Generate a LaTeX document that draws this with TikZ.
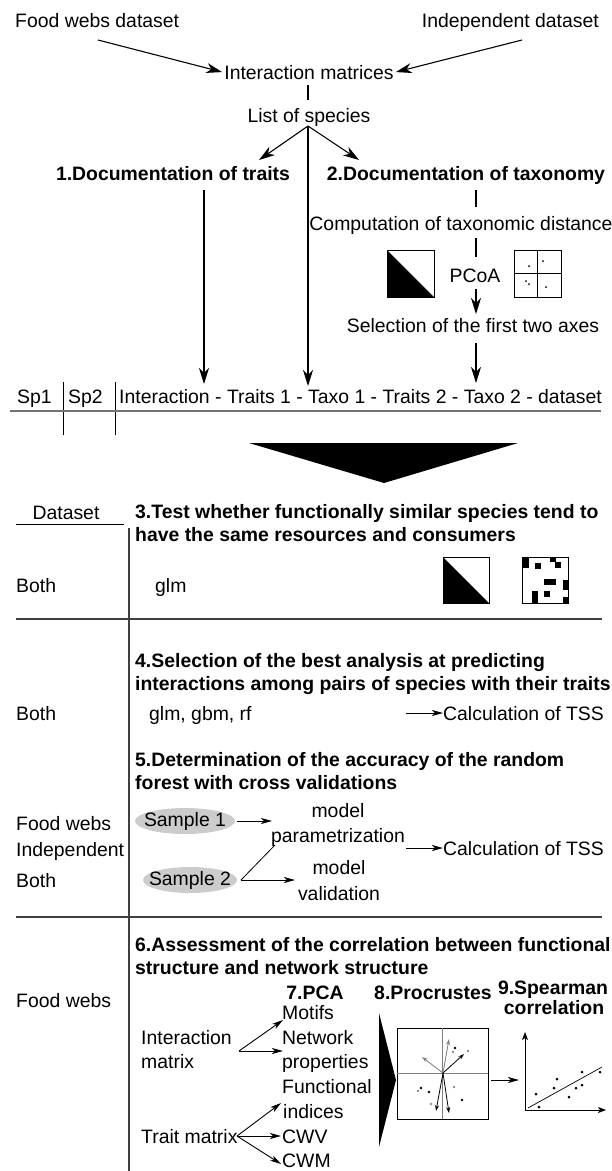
\documentclass[tikz,border=0pt]{standalone}
\usepackage{fontspec}
\setmainfont{Liberation Sans}
\usetikzlibrary{arrows.meta}
\begin{document}
\begin{tikzpicture}[x=1pt,y=-1pt,
  txt/.style={font=\fontsize{19.4}{23}\selectfont, inner sep=0pt},
  hd/.style={font=\fontsize{19.4}{23}\selectfont\bfseries, inner sep=0pt, align=left},
  ln/.style={line width=1.1pt},
  bigarr/.style={ln, -{Stealth[length=16pt,width=10pt,inset=5pt]}},
  smarr/.style={line width=0.9pt, -{Stealth[length=11pt,width=6pt,inset=3pt]}},
  tinyarr/.style={line width=0.8pt, -{Stealth[length=6pt,width=4pt,inset=2pt]}},
  sepline/.style={line width=1.4pt, draw=black!75},
  bdot/.style={fill=black},
  gdot/.style={fill=black!45},
  samp/.style={fill=black!20},
]
\useasboundingbox (0,0) rectangle (611,1171);

% ---------- top part ----------
\node[txt, anchor=base west] (fw) at (15,27) {Food webs dataset};
\node[txt, anchor=base east] (ind) at (599,27) {Independent dataset};
\node[txt, anchor=base] (im) at (309,79) {Interaction matrices};
\node[txt, anchor=base] (los) at (309,122) {List of species};
\node[hd, anchor=base] (h1) at (173,180) {1.Documentation of traits};
\node[hd, anchor=base] (h2) at (466,180) {2.Documentation of taxonomy};
\node[txt, anchor=base] (comp) at (461,230) {Computation of taxonomic distance};
\node[txt, anchor=base] (pcoa) at (475,282) {PCoA};
\node[txt, anchor=base] (sel) at (473,332) {Selection of the first two axes};

\coordinate (fwA) at (98,40);
\coordinate (indA) at (522,40);
\draw[bigarr] (fwA) -- ([xshift=-2pt]im.west);
\draw[bigarr] (indA) -- ([xshift=2pt]im.east);
\coordinate (imB) at (308,85);
\coordinate (losT) at (308,100);
\draw[ln] (imB) -- (losT);
\coordinate (br) at (308,126);
\coordinate (bl) at (259,160);
\coordinate (brr) at (359,160);
\draw[bigarr] (br) -- (bl);
\draw[bigarr] (br) -- (brr);

\coordinate (a0) at (204,190);
\coordinate (a1) at (204,384);
\coordinate (b1) at (308,386);
\draw[bigarr] (a0) -- (a1);
\draw[bigarr] (br) -- (b1);

\coordinate (c0) at (476,190);
\coordinate (c1) at (476,207);
\coordinate (c2) at (476,238);
\coordinate (c3) at (476,257);
\coordinate (c4) at (476,289);
\coordinate (c5) at (476,314);
\coordinate (c6) at (476,343);
\coordinate (c7) at (476,383);
\draw[ln] (c0) -- (c1);
\draw[ln] (c2) -- (c3);
\draw[bigarr] (c4) -- (c5);
\draw[bigarr] (c6) -- (c7);

% matrix icons (top)
\draw[line width=0.9pt] (387,250) rectangle (434,297);
\fill (387,250) -- (387,297) -- (434,297) -- cycle;
\draw[line width=0.9pt] (514,250) rectangle (561,297);
\draw[line width=0.7pt] (537.5,250) -- (537.5,297);
\draw[line width=0.7pt] (514,273.5) -- (561,273.5);
\fill (529,266) circle (1pt);
\fill (543,261) circle (1pt);
\fill (526,281) circle (1pt);
\fill (529,284) circle (1pt);
\fill (546,287) circle (1pt);

% species row
\node[txt, anchor=base west] (sp1) at (17,403) {Sp1};
\node[txt, anchor=base west] (sp2) at (68,403) {Sp2};
\node[txt, anchor=base west] (row) at (119,403) {Interaction - Traits 1 - Taxo 1 - Traits 2 - Taxo 2 - dataset};
\draw[line width=0.8pt] (63,382) -- (63,435);
\draw[line width=0.8pt] (115,382) -- (115,435);
\draw[line width=2pt, draw=black!55] (10,411) -- (601,411);

% big down triangle
\fill (249,443) -- (518,443) -- (384,483) -- cycle;

% ---------- table ----------
\node[txt, anchor=base] (ds) at (66,519) {Dataset};
\draw[line width=1pt] (16,524) -- (124,524);
\draw[sepline] (129,528) -- (129,1171);

\node[hd, anchor=base west] (h3) at (135,541) {3.Test whether functionally similar species tend to\\have the same resources and consumers};
\node[txt, anchor=base west] (both1) at (16,592) {Both};
\node[txt, anchor=base west] (glm) at (155,592) {glm};

\draw[line width=0.9pt] (443,557) rectangle (489,603);
\fill (443,557) -- (443,603) -- (489,603) -- cycle;
\draw[line width=0.9pt] (522,557) rectangle (568,603);
\fill (522,557) rectangle (529,568);
\fill (535,563) rectangle (541,569);
\fill (550,557) rectangle (556,562);
\fill (555,562) rectangle (561,568);
\fill (544,579) rectangle (556,585);
\fill (563,580) rectangle (568,590);
\fill (544,591) rectangle (550,597);
\fill (532,591) rectangle (538,603);
\fill (563,597) rectangle (568,603);

\draw[sepline] (16,619) -- (602,619);

\node[hd, anchor=base west] (h4) at (135,690) {4.Selection of the best analysis at predicting\\interactions among pairs of species with their traits};
\node[txt, anchor=base west] (both2) at (16,720) {Both};
\node[txt, anchor=base west] (ggr) at (149,720) {glm, gbm, rf};
\node[txt, anchor=base west] (tss1) at (443,720) {Calculation of TSS};
\coordinate (t1s) at (406,713);
\draw[smarr] (t1s) -- (tss1.west |- t1s);

\node[hd, anchor=base west] (h5) at (135,789) {5.Determination of the accuracy of the random\\forest with cross validations};
\node[txt, anchor=base west] (fw2) at (16,830) {Food webs};
\node[txt, anchor=base west] (indep) at (16,856) {Independent};
\node[txt, anchor=base west] (both3) at (16,887) {Both};

\fill[samp] (185,821) ellipse [x radius=50pt, y radius=13pt];
\node[txt] (s1) at (185,821) {Sample 1};
\fill[samp] (190,880) ellipse [x radius=47pt, y radius=13pt];
\node[txt] (s2) at (190,880) {Sample 2};

\node[txt, anchor=base] (mod1) at (338,817) {model};
\node[txt, anchor=base] (par) at (338,842) {parametrization};
\node[txt, anchor=base] (mod2) at (339,874) {model};
\node[txt, anchor=base] (val) at (339,900) {validation};
\node[txt, anchor=base west] (tss2) at (443,855) {Calculation of TSS};

\coordinate (s1e) at (237,821);
\coordinate (s1t) at (272,821);
\draw[smarr] (s1e) -- (s1t);
\coordinate (s2e) at (241,880);
\coordinate (s2u) at (275,845);
\coordinate (s2t) at (295,880);
\draw[line width=0.8pt] (s2u) -- (s2e);
\draw[smarr] (s2e) -- (s2t);
\coordinate (t2s) at (406,848);
\draw[smarr] (t2s) -- (tss2.west |- t2s);

\draw[sepline] (16,917) -- (602,917);

% ---------- section 6 ----------
\node[hd, anchor=base west] (h6) at (135,974) {6.Assessment of the correlation between functional\\structure and network structure};
\node[txt, anchor=base west] (fw3) at (16,1007) {Food webs};
\node[hd, anchor=base] (pca) at (315,999) {7.PCA};
\node[hd, anchor=base] (pro) at (433,999) {8.Procrustes};
\node[hd, anchor=base] (spe) at (553,994) {9.Spearman};
\node[hd, anchor=base] (cor) at (554,1014) {correlation};

\node[txt, anchor=base west] (intm) at (141,1044) {Interaction};
\node[txt, anchor=base west] (mat) at (141,1068) {matrix};
\node[txt, anchor=base west] (trm) at (141,1143) {Trait matrix};
\node[txt, anchor=base west] (mot) at (282,1019) {Motifs};
\node[txt, anchor=base west] (net) at (282,1044) {Network};
\node[txt, anchor=base west] (prop) at (282,1068) {properties};
\node[txt, anchor=base west] (fun) at (282,1093) {Functional};
\node[txt, anchor=base west] (ind2) at (283,1118) {indices};
\node[txt, anchor=base west] (cwv) at (282,1143) {CWV};
\node[txt, anchor=base west] (cwm) at (282,1167) {CWM};

\coordinate (ia) at (239,1051);
\coordinate (iat) at (283,1020);
\coordinate (ibt) at (283,1051);
\draw[smarr] (ia) -- (iat);
\draw[smarr] (ia) -- (ibt);
\coordinate (ta) at (237,1136);
\coordinate (tat) at (281,1103);
\coordinate (tbt) at (281,1136);
\coordinate (tct) at (281,1164);
\draw[smarr] (ta) -- (tat);
\draw[smarr] (ta) -- (tbt);
\draw[smarr] (ta) -- (tct);

% thin triangle
\fill (379,1013) -- (396,1080) -- (379,1147) -- cycle;

% procrustes box
\draw[line width=0.9pt] (397,1028) rectangle (488,1119);
\draw[line width=0.8pt, draw=black!50] (442.5,1028) -- (442.5,1119);
\draw[line width=0.8pt, draw=black!50] (397,1073.5) -- (488,1073.5);
\coordinate (pc) at (443,1073);
\draw[tinyarr, draw=black!50, fill=black!50] (pc) -- (422,1057);
\draw[tinyarr, draw=black!50, fill=black!50] (pc) -- (449,1039);
\draw[tinyarr] (pc) -- (464,1054);
\draw[tinyarr] (pc) -- (436,1111);
\draw[tinyarr] (pc) -- (449,1113);
\fill[bdot] (455,1048) circle (1.4pt);
\fill[gdot] (453,1052) circle (1.4pt);
\fill[gdot] (468,1051) circle (1.4pt);
\fill[bdot] (421,1088) circle (1.4pt);
\fill[gdot] (418,1091) circle (1.4pt);
\fill[bdot] (429,1092) circle (1.4pt);
\fill[gdot] (431,1104) circle (1.4pt);
\fill[gdot] (454,1087) circle (1.4pt);
\fill[bdot] (462,1100) circle (1.4pt);

\coordinate (pr) at (491,1080);
\coordinate (prt) at (519,1080);
\draw[smarr] (pr) -- (prt);

% spearman plot
\coordinate (o) at (525,1110);
\coordinate (yt) at (525,1032);
\coordinate (xt) at (606,1110);
\draw[line width=0.9pt, -{Stealth[length=8pt,width=6pt,inset=2pt]}] (o) -- (yt);
\draw[line width=0.9pt, -{Stealth[length=8pt,width=6pt,inset=2pt]}] (o) -- (xt);
\draw[line width=0.7pt] (528,1108) -- (602,1067);
\foreach \p in {(536,1094),(539,1107),(557,1079),(554,1088),(569,1097),(576,1088),(582,1085),(582,1072),(600,1072)}
  \fill[bdot] \p circle (1.5pt);
\end{tikzpicture}
\end{document}
